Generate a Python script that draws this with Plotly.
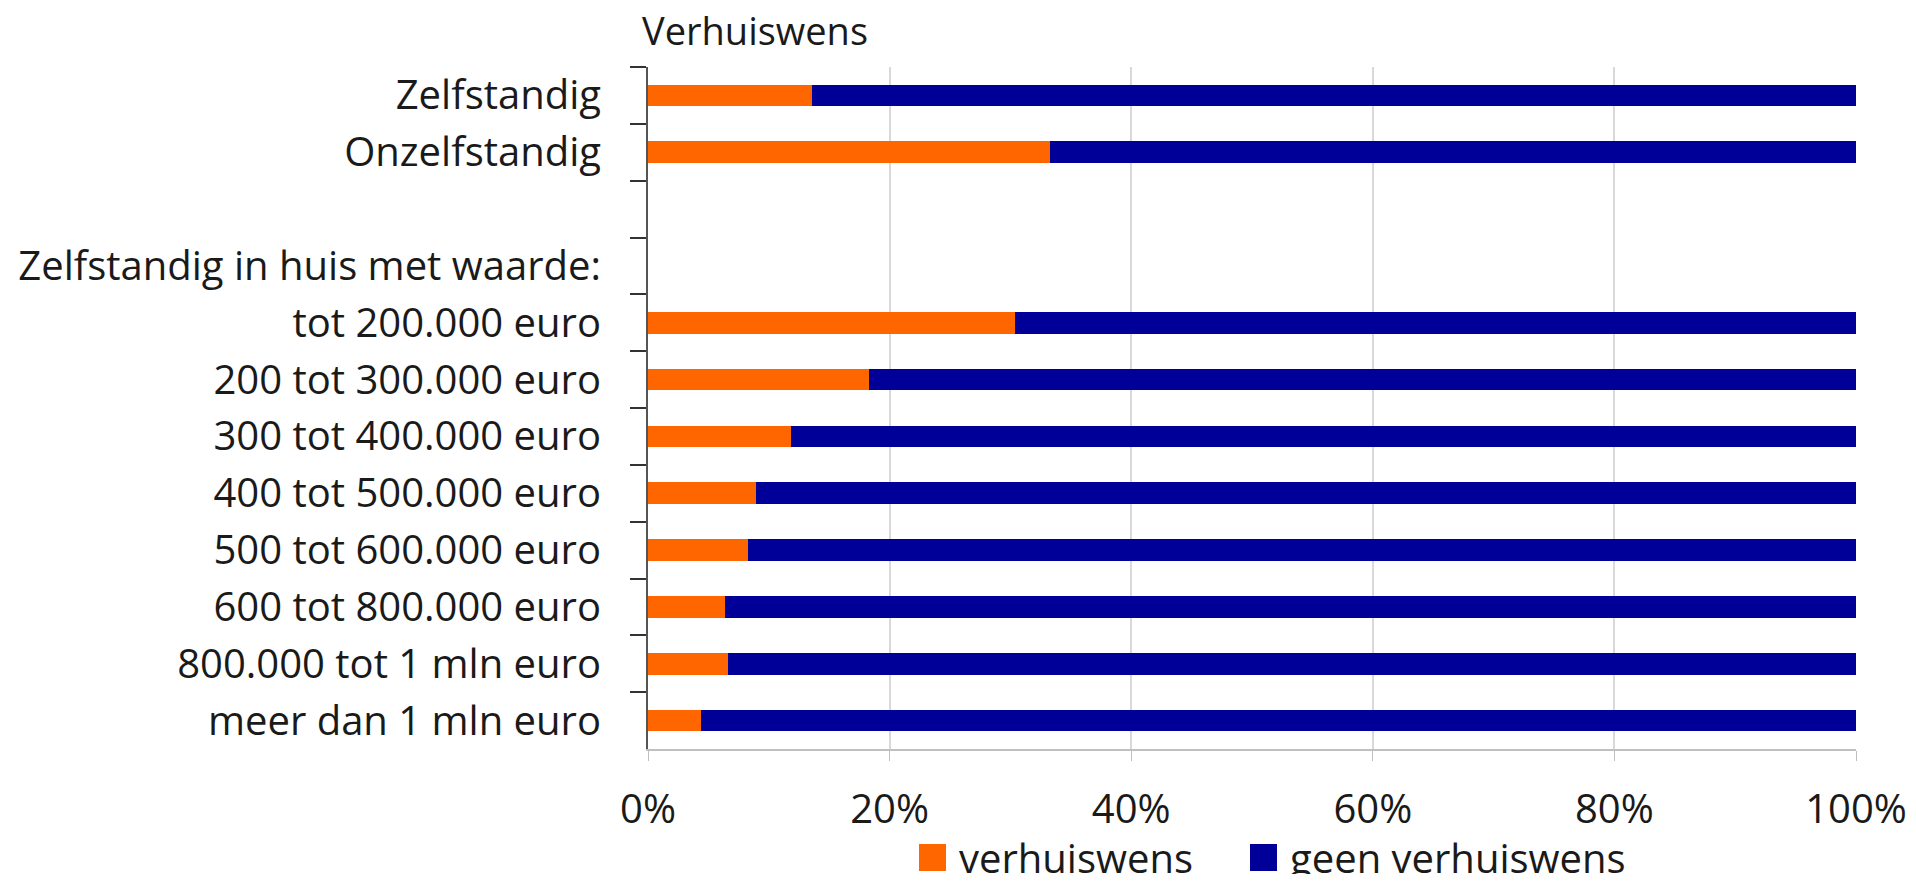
import plotly.graph_objects as go

categories = [
    "Zelfstandig",
    "Onzelfstandig",
    " ",
    "Zelfstandig in huis met waarde:",
    "tot 200.000 euro",
    "200 tot 300.000 euro",
    "300 tot 400.000 euro",
    "400 tot 500.000 euro",
    "500 tot 600.000 euro",
    "600 tot 800.000 euro",
    "800.000 tot 1 mln euro",
    "meer dan 1 mln euro",
]
verhuiswens = [13.6, 33.3, None, None, 30.4, 18.3, 11.8, 8.9, 8.3, 6.4, 6.6, 4.4]
geen_verhuiswens = [None if v is None else round(100 - v, 1) for v in verhuiswens]
x_ticks = [0, 20, 40, 60, 80, 100]
x_tick_labels = ["0%", "20%", "40%", "60%", "80%", "100%"]
series_names = ["verhuiswens", "geen verhuiswens"]
series_colors = ["#FF6600", "#000099"]

FONT = "Open Sans"
FS = 40
TXT = "#1a1a1a"

# page body has an 8px default margin; figure sized to fit the 1916x882 window
W, H = 1900, 866
L, R, T, B = 640, 52, 59, 125
PW, PH = W - L - R, H - T - B

fig = go.Figure()
for name, vals, col in zip(series_names, [verhuiswens, geen_verhuiswens], series_colors):
    fig.add_trace(go.Bar(
        y=categories, x=vals, orientation="h", name=name,
        marker=dict(color=col, line=dict(width=0)), width=0.38,
        showlegend=False,
    ))

# custom legend (large square swatches like the reference)
def px_x(px):
    return (px - L) / PW

def px_y(py):
    return (H - B - py) / PH

legend_items = [(911, 949), (1242, 1280)]
ly = 849
for (sx, tx), name, col in zip(legend_items, series_names, series_colors):
    fig.add_shape(type="rect", xref="paper", yref="paper",
                  x0=px_x(sx), x1=px_x(sx + 27), y0=px_y(ly + 14), y1=px_y(ly - 13),
                  fillcolor=col, line=dict(width=0))
    fig.add_annotation(text=name, xref="paper", yref="paper",
                       x=px_x(tx), y=px_y(ly), xanchor="left", yanchor="middle",
                       showarrow=False, font=dict(family=FONT, size=FS, color=TXT))

fig.update_layout(
    barmode="stack",
    width=W, height=H,
    paper_bgcolor="white", plot_bgcolor="white",
    font=dict(family=FONT, size=FS, color=TXT),
    margin=dict(l=L, r=R, t=T, b=B, autoexpand=False),
    title=dict(text="Verhuiswens", x=634 / W, xanchor="left", y=1 - 24 / H,
               yanchor="middle", font=dict(family=FONT, size=38, color=TXT)),
    showlegend=False,
)
fig.update_xaxes(
    range=[0, 100], tickvals=x_ticks, ticktext=x_tick_labels,
    showgrid=True, gridcolor="#D9D9D9", gridwidth=1.5,
    showline=True, linecolor="#BFBFBF", linewidth=1.5,
    ticks="outside", ticklen=10, tickcolor="#BFBFBF",
    ticklabelstandoff=14, zeroline=False, fixedrange=True,
)
fig.update_yaxes(
    categoryorder="array", categoryarray=categories, autorange="reversed",
    type="category",
    showline=True, linecolor="#555555", linewidth=2,
    ticks="outside", ticklen=16, tickcolor="#333333", tickwidth=2,
    tickson="boundaries", ticklabelstandoff=37, showgrid=False,
)

fig.write_html("out.html")
